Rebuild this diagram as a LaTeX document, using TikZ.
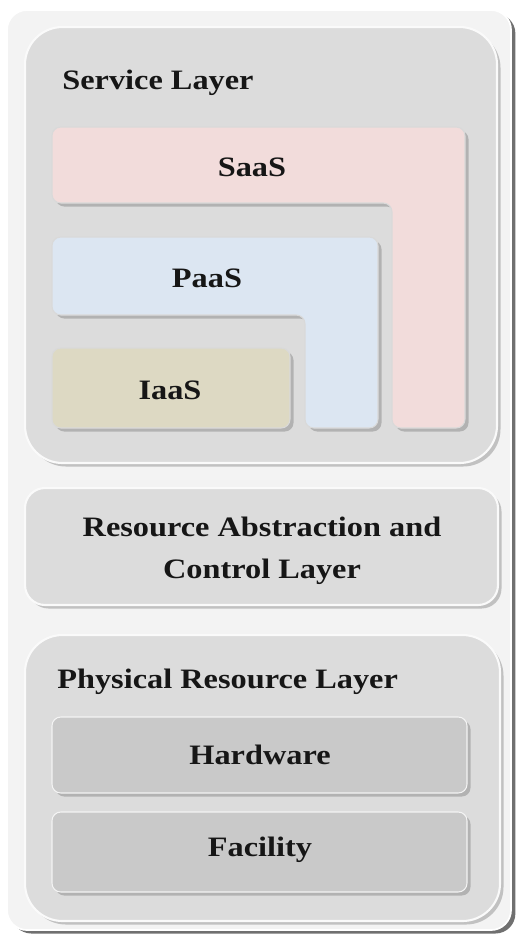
\documentclass[tikz,border=0pt]{standalone}
\usepackage{graphicx}
\usepackage{fontspec}
\setmainfont{Liberation Serif}
\usepackage{tikz}
\usetikzlibrary{shapes,shadows}

\definecolor{framegray}{HTML}{F3F3F3}
\definecolor{layergray}{HTML}{DCDCDC}
\definecolor{boxgray}{HTML}{C9C9C9}
\definecolor{saaspink}{HTML}{F2DCDB}
\definecolor{paasblue}{HTML}{DCE6F2}
\definecolor{iaastan}{HTML}{DDD9C3}
\definecolor{inkgray}{HTML}{161616}

\newcommand{\wtxt}[1]{\scalebox{1.15}[1]{#1}}

\tikzset{
  softshadow/.style={drop shadow={shadow xshift=2pt,shadow yshift=-2pt,opacity=.35,fill=black!60}},
  frame/.style={fill=framegray,draw=white,line width=1pt,rounded corners=0.4cm,
    drop shadow={shadow xshift=2.5pt,shadow yshift=-2pt,opacity=.8,fill=black!70}},
  layer/.style={fill=layergray,draw=white!85!layergray,line width=1.2pt,softshadow},
  tile/.style={draw=white!70!gray,line width=0.6pt,rounded corners=5pt,softshadow},
  lbl/.style={font=\fontsize{16}{24}\selectfont\bfseries,text=inkgray,inner sep=0pt}
}

\begin{document}
\begin{tikzpicture}[x=0.02cm,y=-0.02cm]
\useasboundingbox (0,0) rectangle (518,934);
% outer frame
\draw[frame] (7,10) rectangle (511,930);

% service layer
\draw[layer,rounded corners=0.75cm] (25,27) rectangle (497,463);
\node[lbl,anchor=west] (service) at (62,83) {\wtxt{Service Layer}};
\draw[tile,fill=saaspink] (52,127) -- (465,127) -- (465,428) -- (392,428) -- (392,203) -- (52,203) -- cycle;
\node[lbl] (saas) at (252,167) {\wtxt{SaaS}};
\draw[tile,fill=paasblue] (52,237) -- (378,237) -- (378,428) -- (305,428) -- (305,315) -- (52,315) -- cycle;
\node[lbl] (paas) at (207,278) {\wtxt{PaaS}};
\draw[tile,fill=iaastan] (52,348) rectangle (290,428);
\node[lbl] (iaas) at (170,390) {\wtxt{IaaS}};

% resource abstraction
\draw[layer,rounded corners=0.4cm] (25,488) rectangle (498,605);
\node[lbl,align=center] (control) at (262,551) {\wtxt{Resource Abstraction and}\\\wtxt{Control Layer}};

% physical layer
\draw[layer,rounded corners=0.75cm] (25,635) rectangle (500,921);
\node[lbl,anchor=west] (physical) at (57,682) {\wtxt{Physical Resource Layer}};
\draw[tile,fill=boxgray,draw=white!80!boxgray] (52,717) rectangle (467,793);
\node[lbl] (hardware) at (260,755) {\wtxt{Hardware}};
\draw[tile,fill=boxgray,draw=white!80!boxgray] (52,812) rectangle (467,892);
\node[lbl] (facility) at (260,850) {\wtxt{Facility}};
\end{tikzpicture}
\end{document}
